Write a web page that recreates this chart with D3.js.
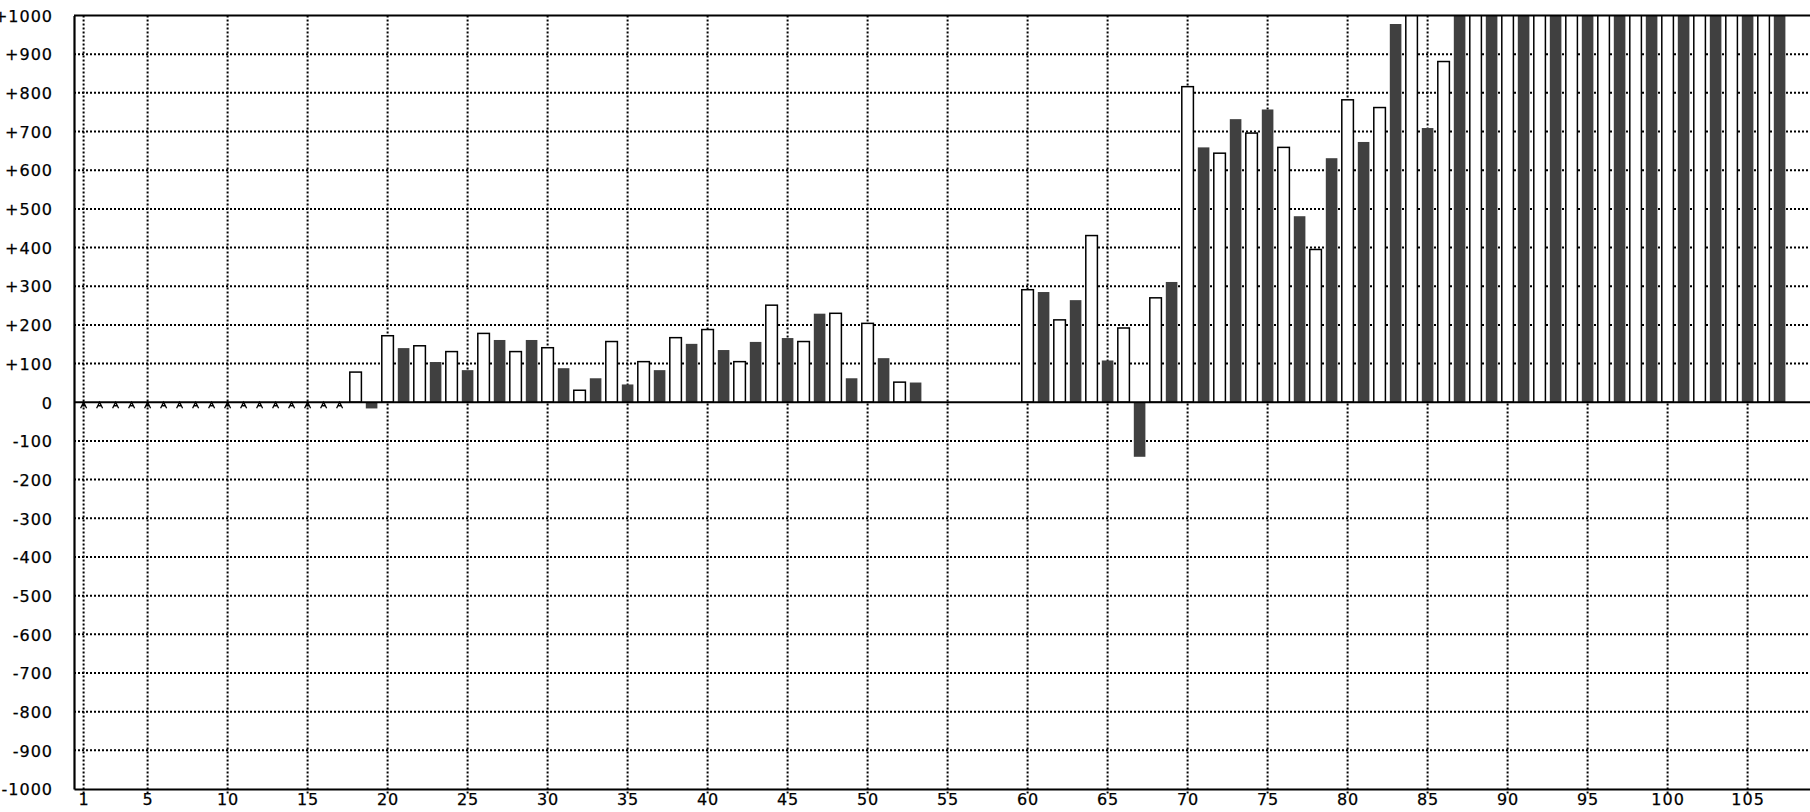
<!DOCTYPE html>
<html>
<head>
<meta charset="utf-8">
<script src="https://cdn.jsdelivr.net/npm/d3@7"></script>
<style>
  html, body { margin: 0; padding: 0; background: #fff; overflow: hidden; }
  svg { display: block; }
  text { font-family: "DejaVu Sans", sans-serif; font-size: 16px; letter-spacing: 1px; fill: #000; stroke: #000; stroke-width: 0.25px; }
</style>
</head>
<body>
<svg id="chart" width="1810" height="812"></svg>
<script>
// ---- data ----
const categories = [
  1,2,3,4,5,6,7,8,9,10,11,12,13,14,15,16,17,18,19,20,
  21,22,23,24,25,26,27,28,29,30,31,32,33,34,35,36,37,38,39,40,
  41,42,43,44,45,46,47,48,49,50,51,52,53,54,55,56,57,58,59,60,
  61,62,63,64,65,66,67,68,69,70,71,72,73,74,75,76,77,78,79,80,
  81,82,83,84,85,86,87,88,89,90,91,92,93,94,95,96,97,98,99,100,
  101,102,103,104,105,106,107
];
const values = [
  0,0,0,0,0,0,0,0,0,0,0,0,0,0,0,0,0,78,-16,172,
  140,146,104,131,83,178,161,131,161,141,88,31,62,157,46,105,83,167,151,188,
  135,105,156,251,166,157,229,230,62,204,114,52,51,null,null,null,null,null,null,291,
  285,213,264,431,108,192,-141,270,311,816,659,644,732,696,757,659,481,395,631,782,
  673,762,978,1200,709,881,1200,1200,1200,1200,1200,1200,1200,1200,1200,1200,1200,1200,1200,1200,
  1200,1200,1200,1200,1200,1200,1200
];
const xTickValues = [1,5,10,15,20,25,30,35,40,45,50,55,60,65,70,75,80,85,90,95,100,105];
const yTickValues = [-1000,-900,-800,-700,-600,-500,-400,-300,-200,-100,0,100,200,300,400,500,600,700,800,900,1000];

// ---- layout ----
const svg = d3.select("#chart");
const pLeft = 74, pRight = 1810, pTop = 15.5, pBottom = 789;
const x = d3.scaleLinear().domain([0.4, 108.9]).range([pLeft, pRight]);
const y = d3.scaleLinear().domain([-1000, 1000]).range([pBottom, pTop]);
const barW = 11.6;

const data = categories.map((c, i) => ({ c, v: values[i] }));

// clip
svg.append("defs").append("clipPath").attr("id", "plotclip")
  .append("rect").attr("x", pLeft).attr("y", pTop).attr("width", pRight - pLeft).attr("height", pBottom - pTop);

// grid
const grid = svg.append("g");
grid.selectAll("line.h").data(yTickValues.filter(v => v !== 0 && Math.abs(v) !== 1000))
  .join("line")
  .attr("x1", pLeft).attr("x2", pRight)
  .attr("y1", d => y(d)).attr("y2", d => y(d))
  .attr("stroke", "#000").attr("stroke-width", 2).attr("stroke-dasharray", "2,2");
grid.selectAll("line.v").data(xTickValues)
  .join("line")
  .attr("x1", d => x(d)).attr("x2", d => x(d))
  .attr("y1", pTop).attr("y2", pBottom + 6)
  .attr("stroke", "#000").attr("stroke-width", 2).attr("stroke-dasharray", "2,2");

// bars
const bars = svg.append("g").attr("clip-path", "url(#plotclip)");
const real = data.filter(d => d.v !== null && d.v !== 0);
bars.selectAll("rect").data(real).join("rect")
  .attr("x", d => x(d.c) - barW / 2)
  .attr("width", barW)
  .attr("y", d => y(Math.max(0, d.v)))
  .attr("height", d => Math.abs(y(d.v) - y(0)))
  .attr("fill", d => d.c % 2 === 0 ? "#fff" : "#404040")
  .attr("stroke", d => d.c % 2 === 0 ? "#000" : "none")
  .attr("stroke-width", 1.5);

// zero markers
const zeros = data.filter(d => d.v === 0);
svg.append("g").selectAll("path").data(zeros).join("path")
  .attr("d", d => {
    const cx = x(d.c), cy = y(d.v);
    return `M${cx - 3},${cy + 6} L${cx},${cy} L${cx + 3},${cy + 6} M${cx - 2},${cy + 3.5} L${cx + 2},${cy + 3.5}`;
  })
  .attr("fill", "none").attr("stroke", "#000").attr("stroke-width", 1.3);

// zero line, frame
svg.append("line").attr("x1", pLeft).attr("x2", pRight).attr("y1", y(0)).attr("y2", y(0))
  .attr("stroke", "#000").attr("stroke-width", 2);
svg.append("line").attr("x1", pLeft).attr("x2", pRight).attr("y1", pTop).attr("y2", pTop)
  .attr("stroke", "#000").attr("stroke-width", 2);

// axes
const yAxis = d3.axisLeft(y).tickValues(yTickValues).tickSize(0).tickPadding(21)
  .tickFormat(d => d > 0 ? "+" + d : String(d));
const gy = svg.append("g").attr("transform", `translate(${pLeft},0)`).call(yAxis);
gy.select(".domain").attr("stroke", "#000").attr("stroke-width", 2.2);
gy.selectAll("text").attr("font-size", null).attr("font-family", null).attr("dy", "0.36em");

const xAxis = d3.axisBottom(x).tickValues(xTickValues).tickSize(0).tickPadding(5);
const gx = svg.append("g").attr("transform", `translate(0,${pBottom})`).call(xAxis);
gx.select(".domain").attr("stroke", "#000").attr("stroke-width", 2.2);
gx.selectAll("text").attr("font-size", null).attr("font-family", null);
</script>
</body>
</html>
